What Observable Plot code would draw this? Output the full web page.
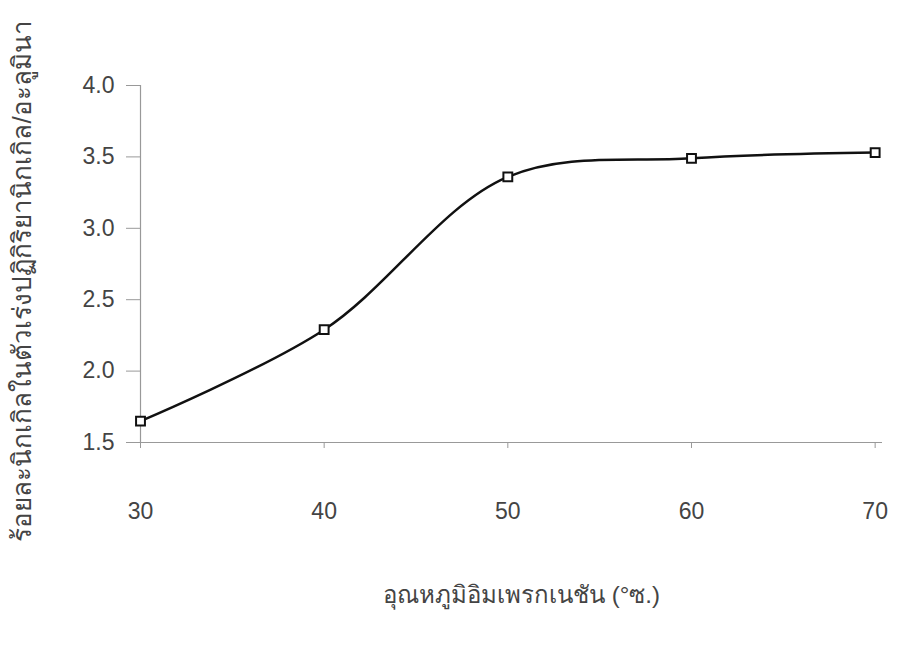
<!DOCTYPE html>
<html>
<head>
<meta charset="utf-8">
<script src="https://cdn.jsdelivr.net/npm/d3@7"></script>
<script src="https://cdn.jsdelivr.net/npm/@observablehq/plot@0.6"></script>
<style>
  html, body { margin: 0; padding: 0; background: #fff; }
  #chart svg { display: block; }
</style>
</head>
<body>
<div id="chart"></div>
<script>
const temperatures = [30, 40, 50, 60, 70];
const nickelPercent = [1.65, 2.29, 3.36, 3.49, 3.53];
const xTicks = [30, 40, 50, 60, 70];
const yTicks = [1.5, 2.0, 2.5, 3.0, 3.5, 4.0];
const xLabel = "อุณหภูมิอิมเพรกเนชัน (°ซ.)";
const yLabel = "ร้อยละนิกเกิลในตัวเร่งปฏิกิริยานิกเกิล/อะลูมินา";

const data = temperatures.map((t, i) => ({t, v: nickelPercent[i]}));

const chart = Plot.plot({
  width: 899,
  height: 646,
  marginLeft: 140,
  marginRight: 17,
  marginTop: 85,
  marginBottom: 204,
  style: {fontFamily: "'Liberation Sans', Arial, sans-serif", fontSize: "23px", color: "#444", background: "#fff"},
  x: {domain: [30, 70.4], ticks: xTicks, label: null},
  y: {domain: [1.5, 4.0], ticks: yTicks, label: null},
  marks: [
    Plot.ruleX([30], {stroke: "#999", strokeWidth: 1.2}),
    Plot.ruleY([1.5], {stroke: "#999", strokeWidth: 1.2}),
    Plot.axisY({ticks: yTicks, tickFormat: d3.format(".1f"), tickSize: 14, tickPadding: 12, stroke: "#999", fill: "#444", label: null, fontSize: 23}),
    Plot.axisX({ticks: xTicks, tickSize: 6, tickPadding: 54, stroke: "#999", fill: "#444", label: null, fontSize: 23}),
    Plot.line(data, {x: "t", y: "v", curve: "catmull-rom", stroke: "#111", strokeWidth: 2.5}),
    Plot.dot(data, {x: "t", y: "v", symbol: "square", r: 5, fill: "#fff", stroke: "#111", strokeWidth: 2}),
    Plot.text([xLabel], {frameAnchor: "bottom", dy: 160, dx: 10, text: d => d, fontSize: 24, fill: "#444"}),
    Plot.text([yLabel], {frameAnchor: "left", textAnchor: "middle", dx: -118, dy: 17, rotate: -90, text: d => d, fontSize: 26, fill: "#444"})
  ]
});
document.getElementById("chart").appendChild(chart);
</script>
</body>
</html>
